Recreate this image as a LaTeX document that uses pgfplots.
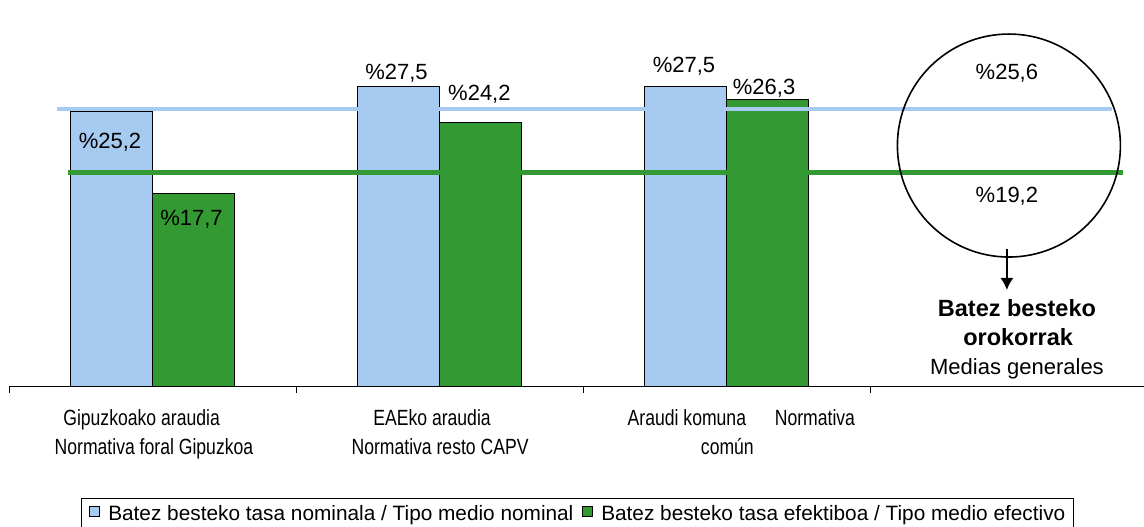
\documentclass[border=0pt]{standalone}
\usepackage{fontspec}
\setmainfont{Liberation Sans}
\newfontfamily\narrowfont[FakeStretch=0.8]{Liberation Sans}
\usepackage{pgfplots}
\pgfplotsset{compat=1.18}
\usetikzlibrary{arrows.meta}
\definecolor{barblue}{RGB}{166,202,240}
\definecolor{bargreen}{RGB}{51,153,51}
\newcommand\valfont{\fontsize{22bp}{26bp}\selectfont}
\newcommand\catfont{\narrowfont\fontsize{22bp}{26bp}\selectfont}
\pgfplotsset{legimg/.style={legend image code/.code={\draw[##1,draw=black,line width=0.8bp] (0bp,-1.7bp) rectangle (10bp,8.3bp);}}}
\begin{document}
\begin{tikzpicture}
\path[use as bounding box] (0,0) rectangle (1144bp,527bp);
\begin{axis}[
  at={(9bp,141bp)}, anchor=south west,
  x=287bp, y=10.9bp,
  xmin=-0.5, xmax=3.5, ymin=0, ymax=35,
  axis x line*=bottom, axis y line=none,
  xtick={-0.5,0.5,1.5,2.5,3.5}, xticklabels={},
  ytick=\empty,
  tick align=outside, major tick length=7bp,
  xtick style={black, line width=1bp},
  x axis line style={black, line width=1bp},
  clip=false,
  legend columns=2,
  legend style={at={(axis description cs:0.0627,-0.2936)}, anchor=north west,
    draw=black, line width=1bp, font=\fontsize{20.8bp}{25bp}\selectfont,
    inner xsep=8bp, inner ysep=7bp,
    nodes={inner sep=0bp},
    /tikz/every odd column/.append style={column sep=8bp},
    /tikz/every even column/.append style={column sep=9bp}},
]
\addplot[ybar, bar width=82bp, bar shift=-41bp, fill=barblue, draw=black, line width=1bp, legimg]
  coordinates {(0,25.2) (1,27.5) (2,27.5)};
\addlegendentry{Batez besteko tasa nominala / Tipo medio nominal}
\addplot[ybar, bar width=82bp, bar shift=41bp, fill=bargreen, draw=black, line width=1bp, legimg]
  coordinates {(0,17.7) (1,24.2) (2,26.3)};
\addlegendentry{Batez besteko tasa efektiboa / Tipo medio efectivo}
\addplot[barblue, line width=4.5bp, forget plot] coordinates {(-0.333,25.4) (3.343,25.4)};
\addplot[bargreen, line width=4.5bp, forget plot] coordinates {(-0.294,19.6) (3.381,19.6)};

\node[font=\valfont, anchor=base] at (axis cs:-0.148,21.83) {\%25,2};
\node[font=\valfont, anchor=base] at (axis cs:0.136,14.68) {\%17,7};
\node[font=\valfont, anchor=base] at (axis cs:0.850,28.14) {\%27,5};
\node[font=\valfont, anchor=base] at (axis cs:1.139,26.17) {\%24,2};
\node[font=\valfont, anchor=base] at (axis cs:1.852,28.74) {\%27,5};
\node[font=\valfont, anchor=base] at (axis cs:2.131,26.70) {\%26,3};
\node[font=\valfont, anchor=base] at (axis cs:2.977,28.14) {\%25,6};
\node[font=\valfont, anchor=base] at (axis cs:2.977,16.82) {\%19,2};

\draw[black, line width=1.6bp] (axis cs:2.984,22.06) circle[radius=111.5bp];
\draw[black, line width=1.5bp, -{Latex[length=12bp,width=13bp]}] (axis cs:2.977,12.57) -- (axis cs:2.977,8.81);

\node[font=\fontsize{23.5bp}{28bp}\selectfont\bfseries, anchor=base] at (axis cs:3.012,6.42) {Batez besteko};
\node[font=\fontsize{23.5bp}{28bp}\selectfont\bfseries, anchor=base] at (axis cs:3.016,3.76) {orokorrak};
\node[font=\valfont, anchor=base] at (axis cs:3.012,1.10) {Medias generales};

\node[font=\catfont, anchor=base] at (axis cs:-0.038,-3.58) {Gipuzkoako araudia};
\node[font=\catfont, anchor=base] at (axis cs:0.005,-6.24) {Normativa foral Gipuzkoa};
\node[font=\catfont, anchor=base] at (axis cs:0.974,-3.58) {EAEko araudia};
\node[font=\catfont, anchor=base] at (axis cs:1.002,-6.24) {Normativa resto CAPV};
\node[font=\catfont, anchor=base] at (axis cs:1.862,-3.58) {Araudi komuna};
\node[font=\catfont, anchor=base] at (axis cs:2.308,-3.58) {Normativa};
\node[font=\catfont, anchor=base] at (axis cs:2.003,-6.24) {común};
\end{axis}
\end{tikzpicture}
\end{document}
